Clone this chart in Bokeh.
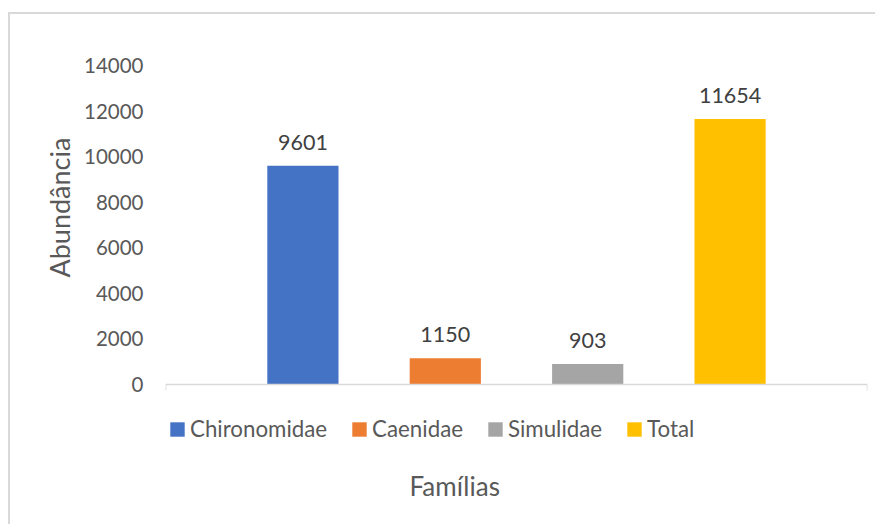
from bokeh.plotting import figure
from bokeh.models import (ColumnDataSource, Range1d, FixedTicker, Label, Title)
from bokeh.core.properties import value
from bokeh.embed import file_html
from bokeh.resources import INLINE

families = ["Chironomidae", "Caenidae", "Simulidae", "Total"]
abundance = [9601, 1150, 903, 11654]
colors = ["#4472C4", "#ED7D31", "#A5A5A5", "#FFC000"]
y_ticks = [0, 2000, 4000, 6000, 8000, 10000, 12000, 14000]

FONT = "Lato"
TXT = "#595959"

pos = list(range(len(families)))
src = ColumnDataSource(dict(family=families, x=pos, value=abundance, color=colors,
                            label=[str(v) for v in abundance]))

# layout (pixels): frame top, value-axis baseline, frame bottom
TOP, BASE, BOTTOM = 65, 384, 506
y_max = y_ticks[-1]
y_min = -y_max * (BOTTOM - BASE) / (BASE - TOP)

pad = 0.465
x0, x1 = pos[0] - 0.5 - pad, pos[-1] + 0.5 + pad

p = figure(width=867, height=512, output_backend="svg", toolbar_location=None,
           x_range=Range1d(x0, x1), y_range=Range1d(y_min, y_max),
           min_border_left=155, min_border_top=51, min_border_right=10,
           min_border_bottom=20)
p.styles = {"border-left": "2px solid #D9D9D9", "border-top": "2px solid #D9D9D9",
            "margin-left": "8px", "margin-top": "12px"}
p.outline_line_color = None
p.grid.visible = False

bars = p.vbar(x="x", top="value", width=0.5, bottom=0, source=src,
              fill_color="color", line_color=None, legend_field="family")

p.text(x="x", y="value", text="label", source=src, text_align="center",
       text_baseline="alphabetic", y_offset=-23.5, text_font=value(FONT),
       text_font_size="21.5px", text_color="#404040")

yax = p.yaxis[0]
yax.ticker = FixedTicker(ticks=y_ticks)
yax.axis_line_color = None
yax.major_tick_line_color = None
yax.minor_tick_line_color = None
yax.major_label_standoff = 16
yax.major_label_text_font = FONT
yax.major_label_text_font_size = "20.5px"
yax.major_label_text_color = TXT

ytitle = Title(text="Abundância", align="left", offset=BOTTOM - 277, standoff=12,
               text_font=FONT, text_font_size="27px", text_font_style="normal",
               text_color=TXT)
p.add_layout(ytitle, "left")

xax = p.xaxis[0]
xax.fixed_location = 0
xax.ticker = FixedTicker(ticks=[x0, x1])
xax.axis_line_color = "#D9D9D9"
xax.axis_line_width = 1.5
xax.major_tick_line_color = "#D9D9D9"
xax.major_tick_line_width = 1.5
xax.major_tick_in = 0
xax.major_tick_out = 6
xax.minor_tick_line_color = None
xax.major_label_text_font_size = "0px"
xax.major_label_overrides = {x0: "", x1: ""}
xax.major_label_standoff = 0

leg = p.legend[0]
leg.orientation = "horizontal"
leg.location = (3, 64)
leg.padding = 0
leg.margin = 0
leg.border_line_color = None
leg.background_fill_alpha = 0
leg.glyph_width = 18
leg.glyph_height = 18
leg.label_standoff = 4
leg.spacing = 23
leg.label_text_font = FONT
leg.label_text_font_size = "22.3px"
leg.label_text_color = TXT

xtitle = Label(text="Famílias", x=244, y=21, x_units="screen", y_units="screen",
               text_baseline="alphabetic", text_font=FONT, text_font_size="26px",
               text_font_style="normal", text_color=TXT)
p.add_layout(xtitle)

open("out.html", "w").write(file_html(p, INLINE))
